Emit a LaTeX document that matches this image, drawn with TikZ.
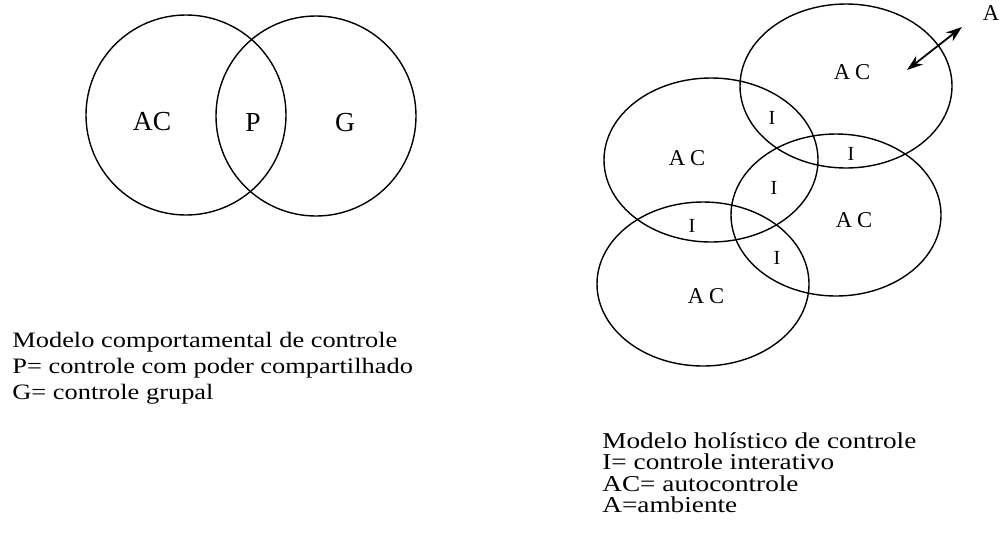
\documentclass[tikz,border=0pt]{standalone}
\usepackage{fontspec}
\setmainfont{Liberation Serif}
\newfontfamily\widefont[FakeStretch=1.2]{Liberation Serif}
\usetikzlibrary{shapes.geometric,arrows.meta}
\begin{document}
\begin{tikzpicture}[x=0.5pt,y=-0.5pt,
  ring/.style={draw,circle,line width=0.7pt,inner sep=0pt,minimum size=#1},
  oval/.style={draw,ellipse,line width=0.7pt,inner sep=0pt},
  biglbl/.style={font=\fontsize{13.75}{15}\selectfont,inner sep=0pt},
  aclbl/.style={font=\fontsize{11.3}{13}\selectfont,inner sep=0pt},
  ilbl/.style={font=\fontsize{10}{12}\selectfont,inner sep=0pt},
  capleft/.style={anchor=base west,inner sep=0pt,font=\widefont\fontsize{11}{13}\selectfont},
  capright/.style={anchor=base west,inner sep=0pt,font=\widefont\fontsize{11.35}{13}\selectfont},
  twohead/.style={{Stealth[length=8pt,width=5.5pt]}-{Stealth[length=8pt,width=5.5pt]},line width=0.9pt}]
\useasboundingbox (0,0) rectangle (1000,542);

% behavioural model: two overlapping circles
\node[ring=100pt] (ac) at (186,115) {};
\node[ring=100pt] (g)  at (316,116) {};
\node[biglbl] (lac) at (152,122) {AC};
\node[biglbl] (lp)  at (253,122) {P};
\node[biglbl] (lg)  at (345,123) {G};

\node[capleft] (capl1) at (12,347) {Modelo comportamental de controle};
\node[capleft] (capl2) at (12,373) {P= controle com poder compartilhado};
\node[capleft] (capl3) at (12,399) {G= controle grupal};

% holistic model: four overlapping ellipses
\node[oval,minimum width=106pt,minimum height=82pt]   (e1) at (846,86)  {};
\node[oval,minimum width=107pt,minimum height=82pt]   (e2) at (711,160) {};
\node[oval,minimum width=105pt,minimum height=81pt]   (e3) at (836,215) {};
\node[oval,minimum width=106pt,minimum height=82pt]   (e4) at (703,284) {};

\node[aclbl] (a1) at (852,72)  {A\hspace{2.5pt}C};
\node[aclbl] (a2) at (687,158) {A\hspace{2.5pt}C};
\node[aclbl] (a3) at (854,220) {A\hspace{2.5pt}C};
\node[aclbl] (a4) at (706,296) {A\hspace{2.5pt}C};

\node[ilbl] (i1) at (772,118) {I};
\node[ilbl] (i2) at (851,154) {I};
\node[ilbl] (i3) at (774,188) {I};
\node[ilbl] (i4) at (692,226) {I};
\node[ilbl] (i5) at (777,258) {I};

% exchange with the environment
\coordinate (pin) at (907,70);
\coordinate (pout) at (962,27);
\draw[twohead] (pin) -- (pout);
\node[aclbl] (env) at (991,13) {A};

\node[capright] (capr1) at (602,448) {Modelo holístico de controle};
\node[capright] (capr2) at (602,469.5) {I= controle interativo};
\node[capright] (capr3) at (602,491) {AC= autocontrole};
\node[capright] (capr4) at (602,512.5) {A=ambiente};
\end{tikzpicture}
\end{document}
